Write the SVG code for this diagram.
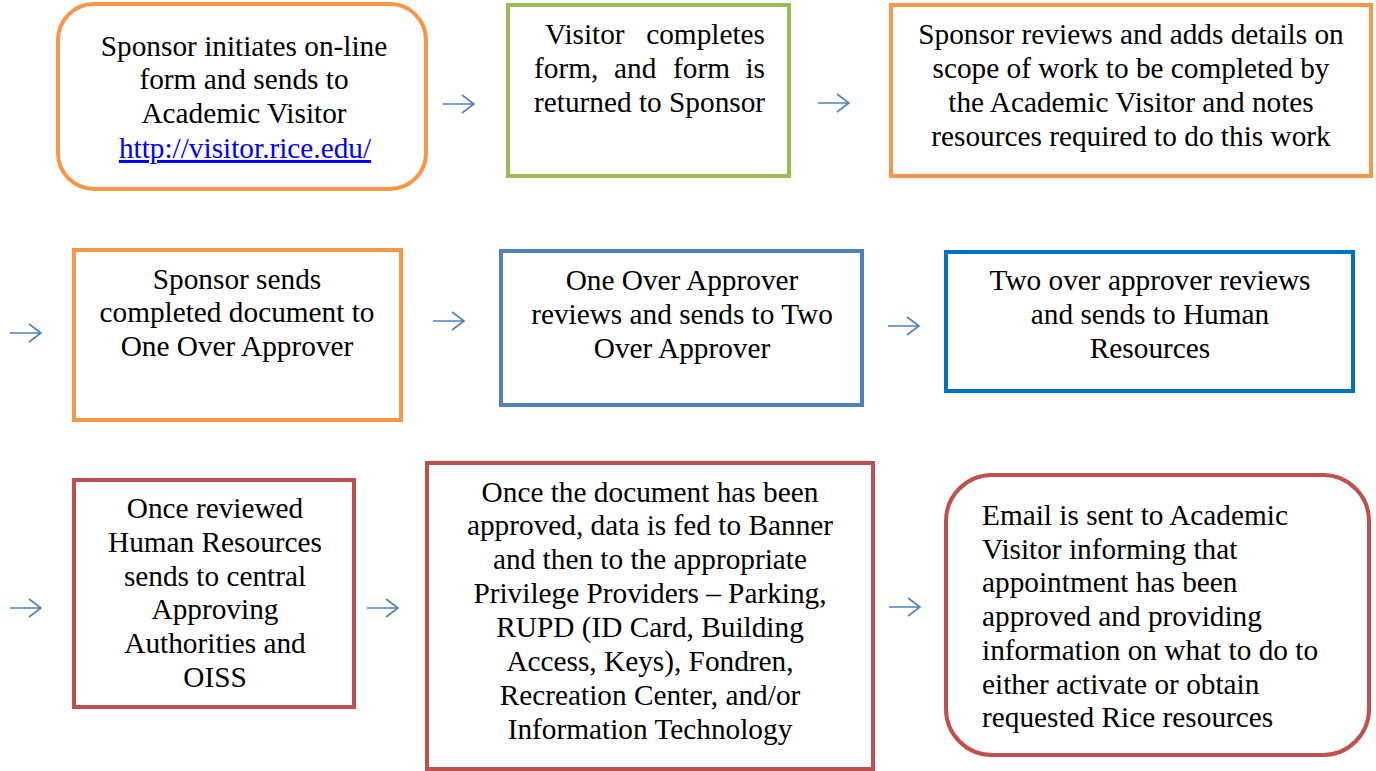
<svg xmlns="http://www.w3.org/2000/svg" width="1376" height="771" viewBox="0 0 1376 771">
<style>
text{font-family:'Liberation Serif',Tinos,'Times New Roman','DejaVu Serif',serif;font-size:29.3px;fill:#000}
.c{text-anchor:middle}
.e{text-anchor:end}
.box{fill:#fff;stroke-width:4}
.or{stroke:#F79646}
.gr{stroke:#9BBB59}
.bl{stroke:#4F81BD}
.db{stroke:#0070C0}
.rd{stroke:#C0504D}
.arr{fill:none;stroke:#4F81BD;stroke-width:1.6}
.link{fill:#0000FF;text-decoration:underline}
</style>
<rect width="1376" height="771" fill="#fff"/>
<g id="n1">
<rect class="box or" x="58" y="4" width="368" height="185" rx="36"/>
<text class="c" x="244" y="56">Sponsor initiates on-line</text>
<text class="c" x="244" y="89">form and sends to</text>
<text class="c" x="244" y="123">Academic Visitor</text>
<text class="c link" x="245" y="158">http://visitor.rice.edu/</text>
</g>
<g id="n2">
<rect class="box gr" x="508" y="5" width="281" height="171"/>
<text x="545" y="44">Visitor</text>
<text class="e" x="765" y="44">completes</text>
<text x="534" y="78">form,</text>
<text x="614" y="78">and</text>
<text x="673" y="78">form</text>
<text class="e" x="765" y="78">is</text>
<text x="534" y="112">returned to Sponsor</text>
</g>
<g id="n3">
<rect class="box or" x="891" y="5" width="480" height="171"/>
<text class="c" x="1131" y="44">Sponsor reviews and adds details on</text>
<text class="c" x="1131" y="78">scope of work to be completed by</text>
<text class="c" x="1131" y="112">the Academic Visitor and notes</text>
<text class="c" x="1131" y="146">resources required to do this work</text>
</g>
<g id="n4">
<rect class="box or" x="74" y="250" width="327" height="170"/>
<text class="c" x="237" y="289">Sponsor sends</text>
<text class="c" x="237" y="322">completed document to</text>
<text class="c" x="237" y="356">One Over Approver</text>
</g>
<g id="n5">
<rect class="box bl" x="501" y="251" width="361" height="154"/>
<text class="c" x="682" y="290">One Over Approver</text>
<text class="c" x="682" y="324">reviews and sends to Two</text>
<text class="c" x="682" y="358">Over Approver</text>
</g>
<g id="n6">
<rect class="box db" x="946" y="252" width="407" height="139"/>
<text class="c" x="1150" y="290">Two over approver reviews</text>
<text class="c" x="1150" y="324">and sends to Human</text>
<text class="c" x="1150" y="358">Resources</text>
</g>
<g id="n7">
<rect class="box rd" x="74" y="480" width="280" height="227"/>
<text class="c" x="215" y="518">Once reviewed</text>
<text class="c" x="215" y="552">Human Resources</text>
<text class="c" x="215" y="586">sends to central</text>
<text class="c" x="215" y="619">Approving</text>
<text class="c" x="215" y="653">Authorities and</text>
<text class="c" x="215" y="687">OISS</text>
</g>
<g id="n8">
<rect class="box rd" x="427" y="463" width="446" height="306"/>
<text class="c" x="650" y="502">Once the document has been</text>
<text class="c" x="650" y="535">approved, data is fed to Banner</text>
<text class="c" x="650" y="569">and then to the appropriate</text>
<text class="c" x="650" y="603">Privilege Providers – Parking,</text>
<text class="c" x="650" y="637">RUPD (ID Card, Building</text>
<text class="c" x="650" y="671">Access, Keys), Fondren,</text>
<text class="c" x="650" y="705">Recreation Center, and/or</text>
<text class="c" x="650" y="739">Information Technology</text>
</g>
<g id="n9">
<rect class="box rd" x="946" y="475" width="423" height="280" rx="46"/>
<text x="982" y="525">Email is sent to Academic</text>
<text x="982" y="559">Visitor informing that</text>
<text x="982" y="592">appointment has been</text>
<text x="982" y="626">approved and providing</text>
<text x="982" y="660">information on what to do to</text>
<text x="982" y="694">either activate or obtain</text>
<text x="982" y="727">requested Rice resources</text>
</g>
<g id="connectors">
<path class="arr" d="M443 104H473M462 95L474 104L462 113"/>
<path class="arr" d="M818 103H848M837 94L849 103L837 112"/>
<path class="arr" d="M10 333H40M29 324L41 333L29 342"/>
<path class="arr" d="M433 321H463M452 312L464 321L452 330"/>
<path class="arr" d="M888 326H918M907 317L919 326L907 335"/>
<path class="arr" d="M10 608H40M29 599L41 608L29 617"/>
<path class="arr" d="M367 608H397M386 599L398 608L386 617"/>
<path class="arr" d="M889 607H919M908 598L920 607L908 616"/>
</g>
</svg>
